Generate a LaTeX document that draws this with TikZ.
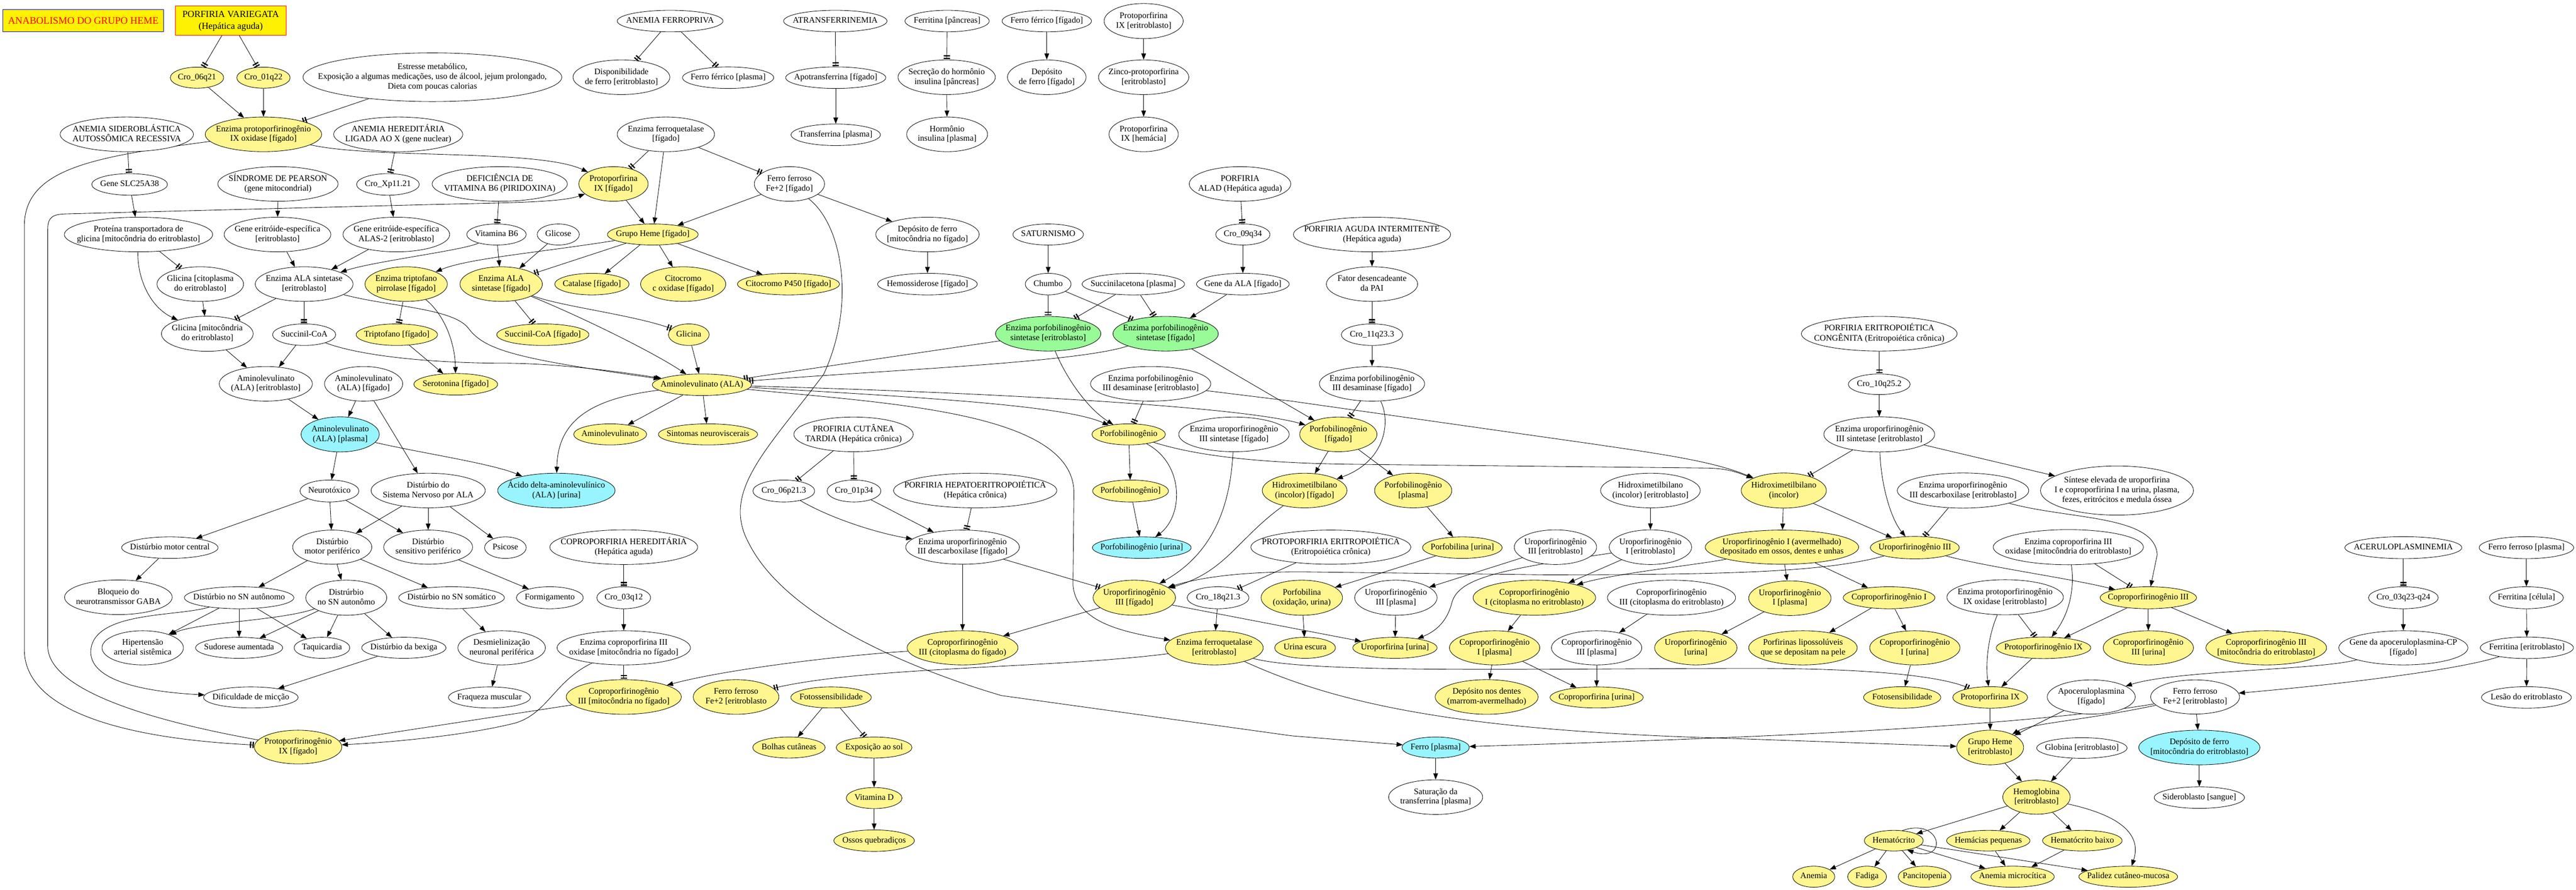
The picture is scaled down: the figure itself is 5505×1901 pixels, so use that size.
\documentclass[tikz,border=0pt]{standalone}
\usepackage{fontspec}
\setmainfont{Liberation Serif}
\usetikzlibrary{shapes.geometric,arrows.meta,backgrounds}
\definecolor{ky}{HTML}{FFF68F}
\definecolor{cy}{HTML}{98F5FF}
\definecolor{gr}{HTML}{98FB98}
\tikzset{
  nbase/.style={ellipse,draw=black,line width=0.7pt,inner sep=0pt,font=\fontsize{13.6}{15.5}\selectfont},
  nW/.style={nbase,fill=white},
  nY/.style={nbase,fill=ky},
  nC/.style={nbase,fill=cy},
  nG/.style={nbase,fill=gr},
  arA/.style={line width=0.7pt,-{Triangle[length=10pt,width=7.5pt]}},
  arT/.style={line width=0.7pt,-{Bar[width=10pt,line width=2pt,sep=2.2pt]Bar[width=10pt,line width=2pt,sep=1pt]}},
}
\newcommand\Nd[7]{\node[#6,minimum width=#4*0.75pt,minimum height=#5*0.75pt] (#1) at (#2,#3) {\makebox[0pt]{\begin{tabular}{@{}c@{}}#7\end{tabular}}};}
\newcommand\EdA[2]{\draw[arA] (#1) -- (#2);}
\newcommand\EdT[2]{\draw[arT] (#1) -- (#2);}
\begin{document}
\begin{tikzpicture}[x=0.75pt,y=-0.75pt]
\useasboundingbox (0,0) rectangle (5505,1901);
\begin{pgfonlayer}{background}
\fill[white] (0,0) rectangle (5505,1901);
\end{pgfonlayer}
% ---- boxes
\node[draw=blue,fill=yellow,text=red,line width=0.7pt,minimum width=344*0.75pt,minimum height=48*0.75pt,inner sep=0pt,font=\fontsize{16}{19}\selectfont] (title) at (178,44) {ANABOLISMO DO GRUPO HEME};
\node[draw=red,fill=yellow,line width=0.7pt,minimum width=237*0.75pt,minimum height=62*0.75pt,inner sep=0pt,font=\fontsize{15}{19}\selectfont] (pv) at (493,44) {\begin{tabular}{@{}c@{}}PORFIRIA VARIEGATA\\(Hepática aguda)\end{tabular}};
% ---- row 44
\Nd{anferro}{1432}{45}{226}{46}{nW}{ANEMIA FERROPRIVA}
\Nd{atrans}{1785}{45}{221}{46}{nW}{ATRANSFERRINEMIA}
\Nd{ferpan}{2024}{45}{180}{46}{nW}{Ferritina [pâncreas]}
\Nd{fefig}{2237}{45}{191}{46}{nW}{Ferro férrico [fígado]}
\Nd{ppixer}{2444}{45}{169}{75}{nW}{Protoporfirina\\IX [eritroblasto]}
% ---- row 166
\Nd{cro06q}{421}{166}{114}{45}{nY}{Cro\_06q21}
\Nd{cro01q}{563}{166}{114}{45}{nY}{Cro\_01q22}
\Nd{estr}{924}{165}{553}{104}{nW}{Estresse metabólico,\\Exposição a algumas medicações, uso de álcool, jejum prolongado,\\Dieta com poucas calorias}
\Nd{disp}{1328}{165}{207}{74}{nW}{Disponibilidade\\de ferro [eritroblasto]}
\Nd{fefpl}{1556}{166}{195}{46}{nW}{Ferro férrico [plasma]}
\Nd{apot}{1786}{166}{214}{46}{nW}{Apotransferrina [fígado]}
\Nd{secr}{2023}{165}{208}{74}{nW}{Secreção do hormônio\\insulina [pâncreas]}
\Nd{depfig}{2237}{165}{168}{74}{nW}{Depósito\\de ferro [fígado]}
\Nd{zinco}{2444}{165}{193}{74}{nW}{Zinco-protoporfirina\\{}[eritroblasto]}
% ---- row 287
\Nd{ansid}{271}{287}{285}{74}{nW}{ANEMIA SIDEROBLÁSTICA\\AUTOSSÔMICA RECESSIVA}
\Nd{eppof}{563}{287}{249}{74}{nY}{Enzima protoporfirinogênio\\IX oxidase [fígado]}
\Nd{anher}{851}{287}{276}{74}{nW}{ANEMIA HEREDITÁRIA\\LIGADA AO X (gene nuclear)}
\Nd{efqf}{1423}{287}{208}{74}{nW}{Enzima ferroquetalase\\{}[fígado]}
\Nd{transf}{1786}{288}{191}{46}{nW}{Transferrina [plasma]}
\Nd{horm}{2024}{287}{173}{74}{nW}{Hormônio\\insulina [plasma]}
\Nd{ppixhem}{2444}{287}{148}{74}{nW}{Protoporfirina\\IX [hemácia]}
% ---- row 393
\Nd{slc}{277}{394}{162}{46}{nW}{Gene SLC25A38}
\Nd{pearson}{594}{393}{257}{74}{nW}{SÍNDROME DE PEARSON\\(gene mitocondrial)}
\Nd{croxp}{829}{394}{134}{46}{nW}{Cro\_Xp11.21}
\Nd{defb6}{1068}{393}{289}{74}{nW}{DEFICIÊNCIA DE\\VITAMINA B6 (PIRIDOXINA)}
\Nd{ppixf}{1311}{393}{148}{74}{nY}{Protoporfirina\\IX [fígado]}
\Nd{fe2f}{1687}{393}{150}{74}{nW}{Ferro ferroso\\Fe+2 [fígado]}
\Nd{alad}{2650}{393}{217}{74}{nW}{PORFIRIA\\ALAD (Hepática aguda)}
% ---- row 501
\Nd{prot}{296}{501}{317}{74}{nW}{Proteína transportadora de\\glicina [mitocôndria do eritroblasto]}
\Nd{geneer}{593}{501}{228}{74}{nW}{Gene eritróide-específica\\{}[eritroblasto]}
\Nd{genealas}{847}{501}{228}{74}{nW}{Gene eritróide-específica\\ALAS-2 [eritroblasto]}
\Nd{vitb6}{1061}{501}{127}{45}{nW}{Vitamina B6}
\Nd{glicose}{1193}{501}{90}{45}{nW}{Glicose}
\Nd{ghf}{1395}{501}{194}{45}{nY}{Grupo Heme [fígado]}
\Nd{depmito}{1982}{501}{221}{74}{nW}{Depósito de ferro\\{}[mitocôndria no fígado]}
\Nd{saturn}{2240}{501}{151}{45}{nW}{SATURNISMO}
\Nd{cro09}{2656}{501}{116}{45}{nW}{Cro\_09q34}
\Nd{pai}{2932}{501}{336}{74}{nW}{PORFIRIA AGUDA INTERMITENTE\\(Hepática aguda)}
% ---- row 607
\Nd{glicit}{428}{607}{185}{74}{nW}{Glicina [citoplasma\\do eritroblasto]}
\Nd{ealase}{650}{607}{209}{74}{nW}{Enzima ALA sintetase\\{}[eritroblasto]}
\Nd{etp}{868}{607}{176}{74}{nY}{Enzima triptofano\\pirrolase [fígado]}
\Nd{ealasf}{1071}{607}{176}{74}{nY}{Enzima ALA\\sintetase [fígado]}
\Nd{catal}{1265}{607}{159}{46}{nY}{Catalase [fígado]}
\Nd{citc}{1460}{607}{182}{74}{nY}{Citocromo\\c oxidase [fígado]}
\Nd{p450}{1685}{607}{218}{46}{nY}{Citocromo P450 [fígado]}
\Nd{hemos}{1982}{607}{213}{46}{nW}{Hemossiderose [fígado]}
\Nd{chumbo}{2240}{607}{98}{46}{nW}{Chumbo}
\Nd{succac}{2422}{607}{219}{46}{nW}{Succinilacetona [plasma]}
\Nd{genala}{2656}{607}{198}{46}{nW}{Gene da ALA [fígado]}
\Nd{fator}{2932}{607}{195}{74}{nW}{Fator desencadeante\\da PAI}
% ---- row 713
\Nd{glimit}{443}{713}{196}{75}{nW}{Glicina [mitocôndria\\do eritroblasto]}
\Nd{succoa}{650}{715}{135}{46}{nW}{Succinil-CoA}
\Nd{tript}{848}{715}{174}{46}{nY}{Triptofano [fígado]}
\Nd{succoaf}{1160}{715}{197}{46}{nY}{Succinil-CoA [fígado]}
\Nd{glicina}{1472}{715}{87}{46}{nY}{Glicina}
\Nd{epbgse}{2240}{713}{225}{74}{nG}{Enzima porfobilinogênio\\sintetase [eritroblasto]}
\Nd{epbgsf}{2491}{713}{225}{74}{nG}{Enzima porfobilinogênio\\sintetase [fígado]}
\Nd{cro11}{2932}{715}{131}{46}{nW}{Cro\_11q23.3}
\Nd{pec}{4016}{713}{333}{74}{nW}{PORFIRIA ERITROPOIÉTICA\\CONGÊNITA (Eritropoiética crônica)}
% ---- row 820
\Nd{alae}{568}{820}{199}{74}{nW}{Aminolevulinato\\(ALA) [eritroblasto]}
\Nd{alaf}{777}{820}{167}{74}{nW}{Aminolevulinato\\(ALA) [fígado]}
\Nd{sero}{974}{821}{179}{46}{nY}{Serotonina [fígado]}
\Nd{ala}{1500}{822}{212}{46}{nY}{Aminolevulinato (ALA)}
\Nd{epbgde}{2459}{820}{257}{74}{nW}{Enzima porfobilinogênio\\III desaminase [eritroblasto]}
\Nd{epbgdf}{2932}{820}{225}{74}{nW}{Enzima porfobilinogênio\\III desaminase [fígado]}
\Nd{cro10}{4016}{821}{132}{44}{nW}{Cro\_10q25.2}
% ---- row 928
\Nd{alap}{727}{928}{167}{75}{nC}{Aminolevulinato\\(ALA) [plasma]}
\Nd{aminol}{1304}{928}{156}{45}{nY}{Aminolevulinato}
\Nd{sintneu}{1513}{928}{212}{45}{nY}{Sintomas neuroviscerais}
\Nd{pct}{1824}{928}{255}{74}{nW}{PROFIRIA CUTÂNEA\\TARDIA (Hepática crônica)}
\Nd{pbg}{2412}{928}{157}{45}{nY}{Porfobilinogênio}
\Nd{eusf}{2637}{928}{236}{74}{nW}{Enzima uroporfirinogênio\\III sintetase [fígado]}
\Nd{pbgf}{2860}{928}{165}{74}{nY}{Porfobilinogênio\\{}[fígado]}
\Nd{euse}{4016}{928}{237}{75}{nW}{Enzima uroporfirinogênio\\III sintetase [eritroblasto]}
% ---- row 1048
\Nd{neuro}{704}{1049}{126}{47}{nW}{Neurotóxico}
\Nd{dsnala}{915}{1048}{244}{74}{nW}{Distúrbio do\\Sistema Nervoso por ALA}
\Nd{acd}{1189}{1048}{251}{74}{nC}{Ácido delta-aminolevulínico\\(ALA) [urina]}
\Nd{cro06p}{1675}{1049}{132}{47}{nW}{Cro\_06p21.3}
\Nd{cro01p}{1825}{1049}{115}{47}{nW}{Cro\_01p34}
\Nd{phe}{2084}{1048}{349}{74}{nW}{PORFIRIA HEPATOERITROPOIÉTICA\\(Hepática crônica)}
\Nd{pbgb}{2416}{1049}{162}{47}{nY}{Porfobilinogênio]}
\Nd{hmbf}{2788}{1048}{181}{74}{nY}{Hidroximetilbilano\\(incolor) [fígado]}
\Nd{pbgpl}{3020}{1048}{165}{74}{nY}{Porfobilinogênio\\{}[plasma]}
\Nd{hmbe}{3527}{1048}{213}{74}{nW}{Hidroximetilbilano\\(incolor) [eritroblasto]}
\Nd{hmbi}{3812}{1048}{182}{75}{nY}{Hidroximetilbilano\\(incolor)}
\Nd{eude}{4195}{1048}{281}{75}{nW}{Enzima uroporfirinogênio\\III descarboxilase [eritroblasto]}
\Nd{sint}{4524}{1048}{327}{105}{nW}{Síntese elevada de uroporfirina\\I e coproporfirina I na urina, plasma,\\fezes, eritrócitos e medula óssea}
% ---- row 1170
\Nd{dmc}{363}{1170}{206}{46}{nW}{Distúrbio motor central}
\Nd{dmp}{710}{1169}{169}{73}{nW}{Distúrbio\\motor periférico}
\Nd{dsp}{915}{1169}{190}{73}{nW}{Distúrbio\\sensitivo periférico}
\Nd{psic}{1080}{1170}{89}{46}{nW}{Psicose}
\Nd{coph}{1333}{1169}{316}{74}{nW}{COPROPORFIRIA HEREDITÁRIA\\(Hepática aguda)}
\Nd{eudf}{2057}{1169}{243}{73}{nW}{Enzima uroporfirinogênio\\III descarboxilase [fígado]}
\Nd{pbgu}{2440}{1170}{211}{46}{nC}{Porfobilinogênio [urina]}
\Nd{ppe}{2844}{1169}{342}{73}{nW}{PROTOPORFIRIA ERITROPOIÉTICA\\(Eritropoiética crônica)}
\Nd{pbu}{3125}{1170}{170}{46}{nY}{Porfobilina [urina]}
\Nd{uro3e}{3324}{1169}{176}{74}{nW}{Uroporfirinogênio\\III [eritroblasto]}
\Nd{uro1e}{3527}{1169}{176}{74}{nW}{Uroporfirinogênio\\I [eritroblasto]}
\Nd{uro1av}{3808}{1169}{328}{73}{nY}{Uroporfirinogênio I (avermelhado)\\depositado em ossos, dentes e unhas}
\Nd{uro3}{4092}{1170}{190}{48}{nY}{Uroporfirinogênio III}
\Nd{ecoe}{4420}{1169}{321}{75}{nW}{Enzima coproporfirina III\\oxidase [mitocôndria do eritroblasto]}
\Nd{acer}{5136}{1170}{250}{47}{nW}{ACERULOPLASMINEMIA}
\Nd{fe2pl}{5399}{1170}{202}{47}{nW}{Ferro ferroso [plasma]}
% ---- row 1277
\Nd{bloq}{253}{1276}{230}{74}{nW}{Bloqueio do\\neurotransmissor GABA}
\Nd{dsna}{511}{1277}{234}{47}{nW}{Distúrbio no SN autônomo}
\Nd{dsnb}{740}{1277}{173}{75}{nW}{Distrúrbio\\no SN autonômo}
\Nd{dsns}{965}{1277}{226}{47}{nW}{Distúrbio no SN somático}
\Nd{formi}{1175}{1277}{143}{47}{nW}{Formigamento}
\Nd{cro03}{1333}{1277}{115}{47}{nW}{Cro\_03q12}
\Nd{uro3f}{2424}{1277}{176}{75}{nY}{Uroporfirinogênio\\III [fígado]}
\Nd{cro18}{2603}{1277}{132}{47}{nW}{Cro\_18q21.3}
\Nd{pbox}{2782}{1277}{174}{75}{nY}{Porfobilina\\(oxidação, urina)}
\Nd{uro3pl}{2983}{1277}{176}{75}{nW}{Uroporfirinogênio\\III [plasma]}
\Nd{copro1c}{3279}{1277}{262}{75}{nY}{Coproporfirinogênio\\I (citoplasma no eritroblasto)}
\Nd{copro3c}{3572}{1277}{274}{75}{nW}{Coproporfirinogênio\\III (citoplasma do eritroblasto)}
\Nd{uro1pl}{3825}{1278}{176}{74}{nY}{Uroporfirinogênio\\I [plasma]}
\Nd{copro1}{4037}{1277}{196}{47}{nY}{Coproporfirinogênio I}
\Nd{eppoe}{4285}{1276}{249}{75}{nW}{Enzima protoporfirinogênio\\IX oxidase [eritroblasto]}
\Nd{copro3}{4591}{1277}{206}{47}{nY}{Coproporfirinogênio III}
\Nd{cro03q}{5136}{1277}{149}{47}{nW}{Cro\_03q23-q24}
\Nd{fercel}{5399}{1277}{158}{47}{nW}{Ferritina [célula]}
% ---- row 1384
\Nd{hiper}{305}{1384}{174}{73}{nW}{Hipertensão\\arterial sistêmica}
\Nd{sudor}{511}{1384}{186}{45}{nW}{Sudorese aumentada}
\Nd{taqui}{688}{1384}{119}{45}{nW}{Taquicardia}
\Nd{bexiga}{863}{1384}{180}{45}{nW}{Distúrbio da bexiga}
\Nd{desm}{1072}{1384}{187}{73}{nW}{Desmielinização\\neuronal periférica}
\Nd{ecof}{1333}{1384}{285}{73}{nW}{Enzima coproporfirina III\\oxidase [mitocôndria no fígado]}
\Nd{copro3cf}{2057}{1384}{237}{73}{nY}{Coproporfirinogênio\\III (citoplasma do fígado)}
\Nd{efqe}{2595}{1384}{209}{73}{nY}{Enzima ferroquetalase\\{}[eritroblasto]}
\Nd{urinaesc}{2789}{1384}{130}{45}{nY}{Urina escura}
\Nd{uropu}{2981}{1384}{180}{45}{nY}{Uroporfirina [urina]}
\Nd{copro1pl}{3194}{1384}{193}{73}{nY}{Coproporfirinogênio\\I [plasma]}
\Nd{copro3pl}{3412}{1384}{193}{73}{nW}{Coproporfirinogênio\\III [plasma]}
\Nd{urogu}{3624}{1384}{176}{73}{nY}{Uroporfirinogênio\\{}[urina]}
\Nd{porflip}{3853}{1384}{232}{73}{nY}{Porfirinas lipossolúveis\\que se depositam na pele}
\Nd{copro1u}{4092}{1384}{193}{73}{nY}{Coproporfirinogênio\\I [urina]}
\Nd{ppgix}{4367}{1384}{202}{46}{nY}{Protoporfirinogênio IX}
\Nd{copro3u}{4591}{1384}{193}{73}{nY}{Coproporfirinogênio\\III [urina]}
\Nd{copro3m}{4843}{1384}{258}{73}{nY}{Coproporfirinogênio III\\{}[mitocôndria do eritroblasto]}
\Nd{geneapo}{5136}{1384}{276}{73}{nW}{Gene da apoceruloplasmina-CP\\{}[fígado]}
\Nd{ferer}{5400}{1384}{199}{46}{nW}{Ferritina [eritroblasto]}
% ---- row 1490
\Nd{dific}{536}{1490}{202}{45}{nW}{Dificuldade de micção}
\Nd{fraq}{1046}{1490}{175}{45}{nW}{Fraqueza muscular}
\Nd{copro3mf}{1333}{1489}{246}{74}{nY}{Coproporfirinogênio\\III [mitocôndria no fígado]}
\Nd{fe2ey}{1573}{1489}{183}{74}{nY}{Ferro ferroso\\Fe+2 [eritroblasto}
\Nd{fotos}{1776}{1490}{172}{45}{nY}{Fotossensibilidade}
\Nd{depdent}{3177}{1489}{220}{74}{nY}{Depósito nos dentes\\(marrom-avermelhado)}
\Nd{coprou}{3412}{1490}{199}{45}{nY}{Coproporfirina [urina]}
\Nd{fotos2}{4065}{1490}{165}{46}{nY}{Fotosensibilidade}
\Nd{ppix}{4253}{1490}{160}{46}{nY}{Protoporfirina IX}
\Nd{apoc}{4469}{1489}{188}{73}{nW}{Apoceruloplasmina\\{}[fígado]}
\Nd{fe2ew}{4691}{1489}{190}{73}{nW}{Ferro ferroso\\Fe+2 [eritroblasto]}
\Nd{lesao}{5399}{1490}{192}{46}{nW}{Lesão do eritroblasto}
% ---- row 1597
\Nd{ppgixf}{637}{1596}{187}{72}{nY}{Protoporfirinogênio\\IX [fígado]}
\Nd{bolhas}{1686}{1597}{155}{45}{nY}{Bolhas cutâneas}
\Nd{expsol}{1868}{1597}{162}{45}{nY}{Exposição ao sol}
\Nd{ferpl}{3068}{1597}{144}{45}{nC}{Ferro [plasma]}
\Nd{ghe}{4253}{1597}{143}{74}{nY}{Grupo Heme\\{}[eritroblasto]}
\Nd{glob}{4449}{1598}{193}{44}{nW}{Globina [eritroblasto]}
\Nd{depfe}{4700}{1597}{259}{74}{nC}{Depósito de ferro\\{}[mitocôndria do eritroblasto]}
% ---- rows below
\Nd{vitd}{1868}{1705}{119}{45}{nY}{Vitamina D}
\Nd{satur}{3068}{1703}{201}{74}{nW}{Saturação da\\transferrina [plasma]}
\Nd{hb}{4352}{1703}{144}{73}{nY}{Hemoglobina\\{}[eritroblasto]}
\Nd{sidero}{4700}{1704}{193}{46}{nW}{Sideroblasto [sangue]}
\Nd{ossos}{1868}{1796}{172}{46}{nY}{Ossos quebradiços}
\Nd{hemat}{4047}{1796}{126}{44}{nY}{Hematócrito}
\Nd{hempeq}{4249}{1796}{178}{44}{nY}{Hemácias pequenas}
\Nd{hembx}{4450}{1796}{170}{44}{nY}{Hematócrito baixo}
\Nd{anemia}{3876}{1873}{90}{45}{nY}{Anemia}
\Nd{fadiga}{3990}{1873}{83}{45}{nY}{Fadiga}
\Nd{panci}{4113}{1873}{113}{45}{nY}{Pancitopenia}
\Nd{anmic}{4301}{1873}{178}{45}{nY}{Anemia microcítica}
\Nd{palidez}{4548}{1873}{211}{45}{nY}{Palidez cutâneo-mucosa}

\begin{pgfonlayer}{background}
% ---- top-left
\EdT{pv}{cro06q}
\EdT{pv}{cro01q}
\EdA{cro06q}{eppof}
\EdA{cro01q}{eppof}
\EdT{estr}{eppof}
\draw[arT] (eppof) .. controls (200,335) and (55,360) .. (52,480) -- (52,1390) .. controls (55,1530) and (300,1580) .. (ppgixf);
\draw[arA] (ppgixf) .. controls (350,1545) and (102,1480) .. (102,1380) -- (102,490) .. controls (102,462) and (115,458) .. (140,457) -- (920,437) .. controls (1100,433) and (1200,432) .. (ppixf);
\draw[arA] (eppof) .. controls (800,340) and (1150,318) .. (ppixf);
\EdT{ansid}{slc}
\EdA{slc}{prot}
\EdA{pearson}{geneer}
\EdT{anher}{croxp}
\EdA{croxp}{genealas}
\EdT{prot}{glicit}
\draw[arA] (prot) .. controls (293,590) and (318,655) .. (glimit);
\EdA{glicit}{glimit}
\EdA{geneer}{ealase}
\EdA{genealas}{ealase}
\draw[arA] (vitb6) .. controls (990,535) and (800,558) .. (ealase);
\EdT{ealase}{glimit}
\EdT{ealase}{succoa}
\draw[arA] (ealase) .. controls (830,655) and (965,658) .. (1000,700) .. controls (1035,748) and (1100,766) .. (ala);
\EdA{glimit}{alae}
\EdA{succoa}{alae}
\draw[arA] (succoa) .. controls (760,757) and (900,776) .. (1084,776) .. controls (1200,777) and (1330,795) .. (ala);
\EdT{etp}{tript}
\draw[arA] (etp) .. controls (945,668) and (972,725) .. (sero);
\EdA{tript}{sero}
\EdA{alae}{alap}
\EdA{alaf}{alap}
\EdA{alaf}{dsnala}
\EdA{alap}{neuro}
\draw[arA] (alap) .. controls (900,968) and (1050,990) .. (acd);
% ---- iron / heme liver
\EdT{anferro}{disp}
\EdT{anferro}{fefpl}
\EdT{atrans}{apot}
\EdA{apot}{transf}
\EdT{efqf}{ppixf}
\EdA{efqf}{ghf}
\EdT{efqf}{fe2f}
\EdA{ppixf}{ghf}
\EdA{fe2f}{ghf}
\EdA{fe2f}{depmito}
\draw[arA] (fe2f) .. controls (1800,480) and (1830,650) .. (1760,800) .. controls (1640,960) and (1540,1050) .. (1600,1160) .. controls (1680,1320) and (1950,1430) .. (2140,1486) -- (2760,1572) -- (ferpl);
\EdA{ghf}{catal}
\EdA{ghf}{citc}
\EdA{ghf}{p450}
\EdT{ghf}{ealasf}
\draw[arA] (ghf) .. controls (1150,540) and (1000,552) .. (etp);
\EdT{defb6}{vitb6}
\EdA{vitb6}{ealasf}
\EdA{glicose}{ealasf}
\EdT{ealasf}{succoaf}
\draw[arT] (ealasf) .. controls (1200,655) and (1350,672) .. (glicina);
\draw[arA] (ealasf) .. controls (1250,680) and (1400,755) .. (ala);
\EdA{glicina}{ala}
\EdA{ala}{aminol}
\EdA{ala}{sintneu}
\draw[arA] (ala) .. controls (1260,852) and (1192,900) .. (acd);
% ---- porphobilinogen
\EdT{epbgse}{ala}
\draw[arT] (epbgsf) .. controls (2300,775) and (1900,790) .. (ala);
\draw[arA] (ala) .. controls (2000,850) and (2280,868) .. (pbg);
\draw[arA] (ala) .. controls (2100,838) and (2650,868) .. (pbgf);
\draw[arA] (ala) .. controls (1900,862) and (2290,880) .. (2295,1050) -- (2293,1250) .. controls (2300,1330) and (2400,1350) .. (efqe);
\draw[arA] (epbgse) .. controls (2275,800) and (2320,870) .. (pbg);
\EdT{epbgde}{pbg}
\EdA{epbgsf}{pbgf}
\draw[arA] (epbgde) -- (2760,857) -- (3400,948) .. controls (3550,970) and (3660,985) .. (hmbi);
\draw[arA] (pbg) .. controls (2560,975) and (2700,990) .. (2900,992) -- (3650,1000) .. controls (3690,1001) and (3710,1008) .. (hmbi);
\EdA{pbg}{pbgb}
\draw[arA] (pbg) .. controls (2530,990) and (2530,1100) .. (pbgu);
\EdA{pbgb}{pbgu}
\EdT{ferpan}{secr}
\EdA{secr}{horm}
\EdA{fefig}{depfig}
\EdA{ppixer}{zinco}
\EdA{zinco}{ppixhem}
\EdA{depmito}{hemos}
\EdA{saturn}{chumbo}
\EdT{alad}{cro09}
\EdA{cro09}{genala}
\EdA{genala}{epbgsf}
\EdT{chumbo}{epbgse}
\EdT{chumbo}{epbgsf}
\EdT{succac}{epbgse}
\EdT{succac}{epbgsf}
\EdA{pai}{fator}
\EdT{fator}{cro11}
\EdA{cro11}{epbgdf}
\EdT{epbgdf}{pbgf}
\draw[arA] (epbgdf) .. controls (2972,900) and (2962,985) .. (hmbf);
\EdA{pbgf}{hmbf}
\EdA{pbgf}{pbgpl}
\EdA{pbgpl}{pbu}
\EdA{pbu}{pbox}
\EdA{pbox}{urinaesc}
\draw[arA] (hmbf) .. controls (2645,1150) and (2620,1222) .. (uro3f);
\draw[arA] (eusf) .. controls (2630,1060) and (2605,1175) .. (uro3f);
\draw[arA] (uro3) .. controls (3900,1222) and (3700,1228) .. (3300,1228) -- (2800,1222) .. controls (2650,1220) and (2560,1235) .. (uro3f);
\EdT{pct}{cro06p}
\EdT{pct}{cro01p}
\draw[arA] (cro06p) .. controls (1780,1110) and (1880,1140) .. (eudf);
\EdA{cro01p}{eudf}
\EdT{phe}{eudf}
\EdA{eudf}{copro3cf}
\EdT{eudf}{uro3f}
\EdA{uro3f}{copro3cf}
\EdA{uro3f}{uropu}
\draw[arA] (copro3cf) .. controls (1800,1400) and (1550,1430) .. (copro3mf);
\EdT{ppe}{cro18}
\EdA{cro18}{efqe}
\draw[arA] (efqe) .. controls (2850,1500) and (3100,1560) .. (3680,1577) -- (ghe);
\draw[arT] (efqe) .. controls (2800,1440) and (3300,1428) .. (3750,1428) .. controls (4000,1428) and (4150,1445) .. (ppix);
\draw[arT] (efqe) .. controls (2250,1428) and (1850,1424) .. (fe2ey);
\EdA{uro3e}{uro3pl}
\EdA{uro3pl}{uropu}
\EdA{uro1e}{copro1c}
\draw[arA] (uro1e) .. controls (3200,1218) and (3115,1235) .. (3102,1290) .. controls (3090,1335) and (3060,1352) .. (uropu);
\EdA{hmbe}{uro1e}
\draw[arA] (uro1av) .. controls (3640,1205) and (3450,1225) .. (copro1c);
\EdA{copro1c}{copro1pl}
\EdA{copro3c}{copro3pl}
\EdA{copro1pl}{depdent}
\EdA{copro1pl}{coprou}
\EdA{copro3pl}{coprou}
\EdA{ferpl}{satur}
\EdT{coph}{cro03}
\EdA{cro03}{ecof}
\EdT{ecof}{copro3mf}
\EdA{copro3mf}{ppgixf}
\draw[arA] (ecof) .. controls (1185,1455) and (1170,1525) .. (1100,1545) .. controls (1000,1570) and (850,1585) .. (ppgixf);
\EdA{fotos}{bolhas}
\EdT{fotos}{expsol}
\EdA{expsol}{vitd}
\EdA{vitd}{ossos}
% ---- neuro
\EdA{neuro}{dmc}
\EdA{neuro}{dmp}
\EdA{neuro}{dsp}
\EdA{dsnala}{dmp}
\EdA{dsnala}{dsp}
\EdA{dsnala}{psic}
\EdA{dmc}{bloq}
\EdA{dmp}{dsna}
\EdA{dmp}{dsnb}
\EdA{dmp}{dsns}
\EdA{dsp}{formi}
\EdA{dsns}{desm}
\EdA{desm}{fraq}
\EdA{dsna}{hiper}
\EdA{dsna}{sudor}
\EdA{dsna}{taqui}
\draw[arA] (dsna) .. controls (380,1318) and (200,1305) .. (194,1390) .. controls (190,1465) and (350,1480) .. (dific);
\draw[arA] (dsnb) .. controls (600,1326) and (420,1330) .. (hiper);
\EdA{dsnb}{sudor}
\EdA{dsnb}{taqui}
\EdA{dsnb}{bexiga}
\EdA{bexiga}{dific}
% ---- erythroblast
\EdT{pec}{cro10}
\EdA{cro10}{euse}
\EdT{euse}{hmbi}
\draw[arA] (euse) .. controls (4020,1040) and (4042,1110) .. (uro3);
\EdA{euse}{sint}
\EdA{hmbi}{uro1av}
\EdA{hmbi}{uro3}
\EdT{eude}{uro3}
\draw[arA] (eude) .. controls (4420,1110) and (4605,1100) .. (4610,1185) -- (copro3);
\EdA{uro1av}{uro1pl}
\EdA{uro1av}{copro1}
\EdA{uro1pl}{urogu}
\draw[arA] (uro3) .. controls (4250,1212) and (4420,1235) .. (copro3);
\EdT{ecoe}{copro3}
\draw[arA] (ecoe) .. controls (4432,1240) and (4430,1300) .. (ppgix);
\EdA{copro3}{ppgix}
\EdA{copro3}{copro3u}
\EdA{copro3}{copro3m}
\EdT{eppoe}{ppgix}
\draw[arA] (eppoe) .. controls (4248,1360) and (4243,1420) .. (ppix);
\EdA{ppgix}{ppix}
\EdA{ppix}{ghe}
\EdA{copro1}{porflip}
\EdA{copro1}{copro1u}
\EdA{copro1u}{fotos2}
\EdT{acer}{cro03q}
\EdA{cro03q}{geneapo}
\draw[arA] (geneapo) .. controls (4950,1432) and (4650,1432) .. (apoc);
\EdA{fe2pl}{fercel}
\EdA{fercel}{ferer}
\EdA{ferer}{lesao}
\draw[arA] (ferer) .. controls (5250,1432) and (5000,1462) .. (fe2ew);
\EdA{fe2ew}{depfe}
\EdA{depfe}{sidero}
\draw[arA] (fe2ew) .. controls (4450,1540) and (4340,1545) .. (ghe);
\draw[arA] (fe2ew) .. controls (4300,1555) and (3700,1578) .. (ferpl);
\EdA{apoc}{ghe}
\EdA{ghe}{hb}
\EdA{glob}{hb}
\EdA{hb}{hemat}
\EdA{hb}{hempeq}
\EdA{hb}{hembx}
\draw[arA] (hb) .. controls (4545,1745) and (4575,1790) .. (palidez);
\EdA{hemat}{anemia}
\EdA{hemat}{fadiga}
\EdA{hemat}{panci}
\EdA{hemat}{anmic}
\EdA{hemat}{palidez}
\draw[arA] (hemat.50) .. controls (4150,1745) and (4165,1845) .. (hemat.-35);
\EdA{hempeq}{anmic}
\EdA{hembx}{anmic}
\end{pgfonlayer}
\end{tikzpicture}
\end{document}
